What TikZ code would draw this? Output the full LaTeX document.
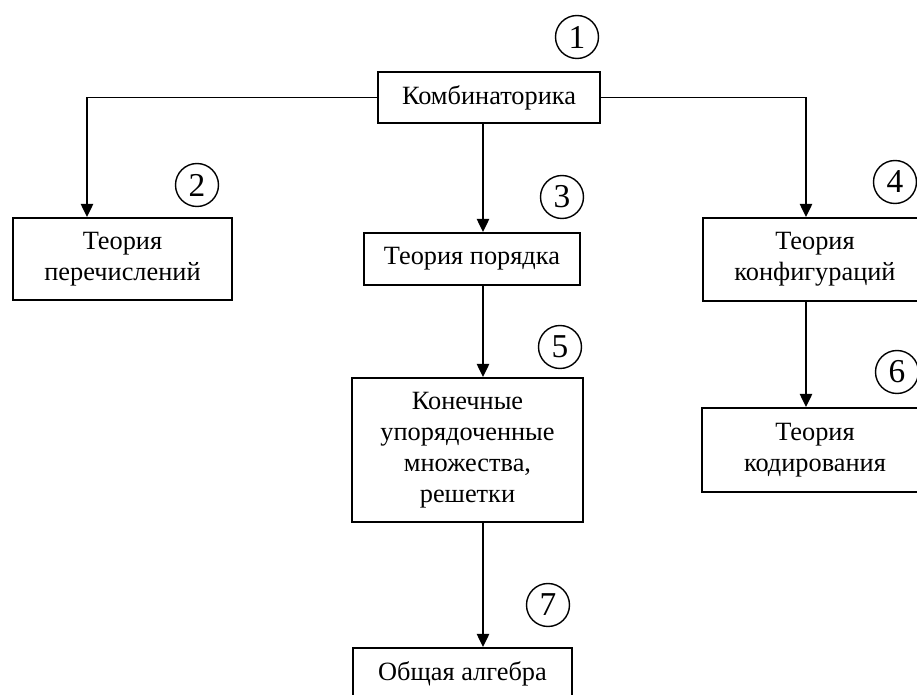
\documentclass[tikz,border=0pt]{standalone}
\usepackage{fontspec}
\setmainfont{Liberation Serif}
\usetikzlibrary{arrows.meta}

\tikzset{
  bloco/.style={draw, line width=1.1pt, align=center, inner sep=2pt, font=\fontsize{15}{17.6}\selectfont},
  seta/.style={-{Triangle[width=7pt,length=7.5pt]}, line width=1.1pt},
  numero/.style={draw, circle, line width=0.8pt, minimum size=0.86cm, inner sep=0pt, font=\fontsize{19}{21}\selectfont}
}

\begin{document}
\begin{tikzpicture}[x=0.02cm, y=-0.02cm]
\useasboundingbox (0,0) rectangle (917,695);

% блоки схемы
\node[bloco, minimum width=4.44cm, minimum height=1.02cm] (komb) at (489,97.5) {Комбинаторика};
\node[bloco, minimum width=4.38cm, minimum height=1.64cm] (enum) at (122.5,259) {Теория\\перечислений};
\node[bloco, minimum width=4.32cm, minimum height=1.04cm] (order) at (472,259) {Теория порядка};
\node[bloco, minimum width=4.48cm, minimum height=1.66cm] (config) at (815,259.5) {Теория\\конфигураций};
\node[bloco, minimum width=4.62cm, minimum height=2.88cm] (posets) at (467.5,450) {Конечные\\упорядоченные\\множества,\\решетки};
\node[bloco, minimum width=4.52cm, minimum height=1.68cm] (coding) at (815,450) {Теория\\кодирования};
\node[bloco, minimum width=4.38cm, minimum height=1.04cm] (algebra) at (462.5,674) {Общая алгебра};

% номера
\node[numero] (n1) at (577,37) {1};
\node[numero] (n2) at (197,185) {2};
\node[numero] (n3) at (562,197) {3};
\node[numero] (n4) at (895,182) {4};
\node[numero] (n5) at (560,347) {5};
\node[numero] (n6) at (897,372) {6};
\node[numero] (n7) at (548,605) {7};

% стрелки
\coordinate (colE) at (87,0);
\coordinate (colM) at (483,0);
\coordinate (colD) at (806,0);
\draw[seta] (komb.west) -| (enum.north -| colE);
\draw[seta] (komb.east) -| (config.north -| colD);
\draw[seta] (komb.south -| colM) -- (order.north -| colM);
\draw[seta] (order.south -| colM) -- (posets.north -| colM);
\draw[seta] (posets.south -| colM) -- (algebra.north -| colM);
\draw[seta] (config.south -| colD) -- (coding.north -| colD);

\end{tikzpicture}
\end{document}
